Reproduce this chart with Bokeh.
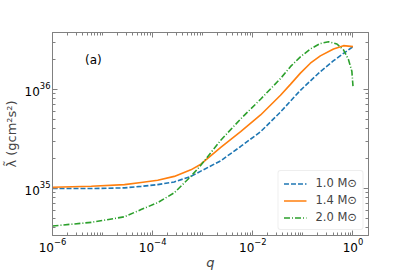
import numpy as np
from bokeh.plotting import figure
from bokeh.models import LogAxis, FixedTicker, Legend, LegendItem, Label
from bokeh.embed import file_html
from bokeh.resources import INLINE

# data (log10 values)
log_q_10 = [-6.0, -5.225, -4.563, -4.231, -3.899, -3.569, -3.237, -3.038, -2.640,
            -2.243, -1.845, -1.447, -1.249, -1.050, -0.851, -0.652, -0.388, -0.189, 0.0]
log_lam_10 = [34.998, 34.998, 35.005, 35.020, 35.038, 35.065, 35.121, 35.174, 35.279,
              35.423, 35.572, 35.771, 35.881, 35.990, 36.085, 36.179, 36.289, 36.363,
              36.431]

log_q_14 = [-6.0, -5.225, -4.563, -4.231, -3.899, -3.569, -3.237, -3.038, -2.640,
            -2.243, -1.845, -1.447, -1.249, -1.050, -0.851, -0.652, -0.388, -0.189, 0.0]
log_lam_14 = [35.012, 35.022, 35.038, 35.060, 35.082, 35.121, 35.187, 35.244, 35.413,
              35.572, 35.741, 35.940, 36.050, 36.164, 36.264, 36.338, 36.408, 36.441,
              36.431]

log_q_20 = [-6.0, -5.225, -4.563, -4.231, -3.899, -3.569, -3.237, -3.038, -2.640,
            -2.243, -1.845, -1.447, -1.249, -1.050, -0.851, -0.652, -0.487, -0.320,
            -0.189, -0.089, -0.022, 0.0]
log_lam_20 = [34.620, 34.657, 34.713, 34.786, 34.856, 34.955, 35.121, 35.234, 35.486,
              35.701, 35.900, 36.109, 36.229, 36.328, 36.408, 36.463, 36.481, 36.458,
              36.398, 36.299, 36.182, 36.033]

labels = ["1.0 M\u2299", "1.4 M\u2299", "2.0 M\u2299"]
colors = ["#1f77b4", "#ff7f0e", "#2ca02c"]

x_major = [1e-6, 1e-4, 1e-2, 1e0]
y_major = [1e35, 1e36]

FONT = "DejaVu Sans"
AX = "#808080"

p = figure(width=405, height=272, x_axis_type="log", y_axis_type="log",
           x_range=(1e-6, 10 ** 0.31), y_range=(10 ** 34.524, 10 ** 36.574),
           output_backend="svg", toolbar_location=None,
           min_border_left=51, min_border_right=37, min_border_top=32,
           min_border_bottom=34)
p.grid.visible = False
p.outline_line_color = AX
p.background_fill_color = "white"

x_minor = [m * 10.0 ** k for k in range(-7, 1) for m in range(1, 10)
           if not (m == 1 and k % 2 == 0)]
y_minor = [m * 10.0 ** k for k in range(34, 37) for m in range(2, 10)]

xt = FixedTicker(ticks=x_major, minor_ticks=x_minor)
yt = FixedTicker(ticks=y_major, minor_ticks=y_minor)


def style(ax, show):
    ax.axis_line_color = AX
    ax.major_tick_line_color = AX
    ax.minor_tick_line_color = AX
    ax.major_tick_in = 5
    ax.major_tick_out = 0
    ax.minor_tick_in = 3
    ax.minor_tick_out = 0
    ax.major_label_text_font = FONT
    ax.major_label_text_color = "black"
    if show:
        ax.major_label_text_font_size = "12px"
        ax.major_label_standoff = 2
    else:
        ax.major_label_text_font_size = "4px"
        ax.major_label_text_alpha = 0
        ax.major_label_standoff = 0


p.xaxis.ticker = xt
p.yaxis.ticker = yt
style(p.xaxis[0], True)
style(p.yaxis[0], True)
p.xaxis.axis_label = "q"
p.xaxis.axis_label_text_font = FONT
p.xaxis.axis_label_text_font_style = "italic"
p.xaxis.axis_label_text_font_size = "13px"
p.xaxis.axis_label_standoff = 0
p.yaxis.axis_label = "\u03bb\u0303 (gcm\u00b2s\u00b2)"
p.yaxis.axis_label_text_font = FONT
p.yaxis.axis_label_text_font_style = "normal"
p.yaxis.axis_label_text_font_size = "13px"
p.yaxis.axis_label_standoff = 3

top = LogAxis(ticker=FixedTicker(ticks=x_major, minor_ticks=x_minor))
style(top, False)
p.add_layout(top, "above")
right = LogAxis(ticker=FixedTicker(ticks=y_major, minor_ticks=y_minor))
style(right, False)
p.add_layout(right, "right")

q10 = [10 ** v for v in log_q_10]
l10 = [10 ** v for v in log_lam_10]
q14 = [10 ** v for v in log_q_14]
l14 = [10 ** v for v in log_lam_14]
q20 = [10 ** v for v in log_q_20]
l20 = [10 ** v for v in log_lam_20]

r1 = p.line(q10, l10, line_color=colors[0], line_width=1.6, line_dash="5 2")
r2 = p.line(q14, l14, line_color=colors[1], line_width=1.6)
r3 = p.line(q20, l20, line_color=colors[2], line_width=1.6, line_dash="6 2 1 2")

legend = Legend(items=[LegendItem(label=labels[0], renderers=[r1]),
                       LegendItem(label=labels[1], renderers=[r2]),
                       LegendItem(label=labels[2], renderers=[r3])],
                location="bottom_right")
legend.label_text_font = FONT
legend.label_text_font_size = "11.5px"
legend.label_height = 13
legend.glyph_height = 13
legend.glyph_width = 23
legend.spacing = 3
legend.padding = 5
legend.margin = 5
legend.label_standoff = 9
legend.border_line_color = "#dddddd"
legend.border_radius = 3
legend.background_fill_alpha = 0.9
p.add_layout(legend)

p.add_layout(Label(x=10 ** -5.185, y=10 ** 36.30, text="(a)", text_font=FONT,
                   text_font_size="12px", text_color="black", text_align="center",
                   text_baseline="middle"))

open("out.html", "w").write(file_html(p, INLINE))
